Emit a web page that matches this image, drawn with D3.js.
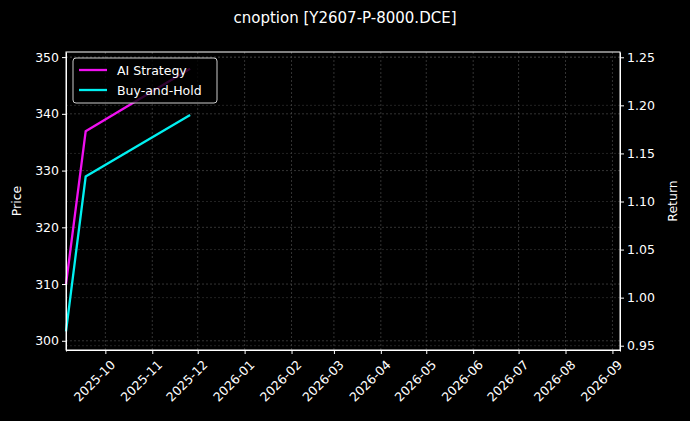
<!DOCTYPE html>
<html>
<head>
<meta charset="utf-8">
<script src="https://cdn.jsdelivr.net/npm/d3@7"></script>
<style>
  body { margin: 0; background: #000; }
  text { font-family: "DejaVu Sans", sans-serif; fill: #fff; }
</style>
</head>
<body>
<div id="chart"></div>
<script>
const title = 'cnoption [Y2607-P-8000.DCE]';
const dates = ['2025-09-05', '2025-09-18', '2025-11-26'];
const aiReturn = [1.014, 1.173, 1.238];
const holdReturn = [0.965, 1.126, 1.190];
const priceTicks = [300, 310, 320, 330, 340, 350];
const returnTicks = [0.95, 1.00, 1.05, 1.10, 1.15, 1.20, 1.25];

const W = 690, H = 421;
const M = { left: 66, right: 70, top: 52, bottom: 71 };
const parse = d3.utcParse('%Y-%m-%d');

const svg = d3.select('#chart').append('svg').attr('width', W).attr('height', H);
svg.append('rect').attr('width', W).attr('height', H).attr('fill', '#000');

const x = d3.scaleUtc()
    .domain([parse('2025-09-05'), parse('2026-09-06')])
    .range([M.left, W - M.right]);
const yPrice = d3.scaleLinear().domain([298.2, 350.9]).range([H - M.bottom + 1, M.top]);
const yRet = d3.scaleLinear().domain([0.9445, 1.2555]).range([H - M.bottom + 1, M.top]);

const g = svg.append('g');
const monthTicks = d3.utcMonth.range(parse('2025-10-01'), parse('2026-09-02'));

// grid
g.selectAll('.vg').data(monthTicks).enter().append('line')
    .attr('x1', d => x(d)).attr('x2', d => x(d))
    .attr('y1', M.top).attr('y2', H - M.bottom)
    .attr('stroke', '#555').attr('stroke-width', 0.6).attr('stroke-dasharray', '2,2');
g.selectAll('.hg').data(priceTicks).enter().append('line')
    .attr('x1', M.left).attr('x2', W - M.right)
    .attr('y1', d => yPrice(d)).attr('y2', d => yPrice(d))
    .attr('stroke', '#555').attr('stroke-width', 0.6).attr('stroke-dasharray', '2,2');
g.selectAll('.hg2').data(returnTicks).enter().append('line')
    .attr('x1', M.left).attr('x2', W - M.right)
    .attr('y1', d => yRet(d)).attr('y2', d => yRet(d))
    .attr('stroke', '#444').attr('stroke-width', 0.5).attr('stroke-dasharray', '2,2');

// lines
const line = arr => d3.line()
    .x((d, i) => x(parse(dates[i])))
    .y(d => yRet(d))(arr);
svg.append('path').attr('d', line(holdReturn)).attr('fill', 'none')
    .attr('stroke', '#00f0f0').attr('stroke-width', 2.3);
svg.append('path').attr('d', line(aiReturn)).attr('fill', 'none')
    .attr('stroke', '#f010f0').attr('stroke-width', 2.3);

// axes
const xAxis = svg.append('g').attr('transform', `translate(0,${H - M.bottom})`)
    .call(d3.axisBottom(x).tickValues(monthTicks).tickFormat(d3.utcFormat('%Y-%m')).tickSize(4).tickSizeOuter(0));
xAxis.selectAll('text')
    .attr('text-anchor', 'end').attr('transform', 'rotate(-45)')
    .attr('dx', '-0.3em').attr('dy', '0.9em').style('font-size', '12.5px');

const yl = svg.append('g').attr('transform', `translate(${M.left},0)`)
    .call(d3.axisLeft(yPrice).tickValues(priceTicks).tickSize(4).tickSizeOuter(0));
yl.selectAll('text').style('font-size', '12.5px');
const yr = svg.append('g').attr('transform', `translate(${W - M.right},0)`)
    .call(d3.axisRight(yRet).tickValues(returnTicks).tickFormat(d3.format('.2f')).tickSize(4).tickSizeOuter(0));
yr.selectAll('text').style('font-size', '12.5px');
svg.selectAll('.domain, .tick line').attr('stroke', '#fff');
svg.selectAll('.tick text').attr('fill', '#fff');

// spines
svg.append('rect').attr('x', M.left).attr('y', M.top)
    .attr('width', W - M.right - M.left).attr('height', H - M.bottom - M.top)
    .attr('fill', 'none').attr('stroke', '#fff').attr('stroke-width', 1);

// labels
svg.append('text').attr('x', W / 2).attr('y', 23).attr('text-anchor', 'middle')
    .style('font-size', '15px').text(title);
svg.append('text').attr('transform', `translate(21,${(M.top + H - M.bottom) / 2}) rotate(-90)`)
    .attr('text-anchor', 'middle').style('font-size', '12.5px').text('Price');
svg.append('text').attr('transform', `translate(677,${(M.top + H - M.bottom) / 2}) rotate(-90)`)
    .attr('text-anchor', 'middle').style('font-size', '12.5px').text('Return');

// legend
const lg = svg.append('g').attr('transform', 'translate(73,58)');
lg.append('rect').attr('width', 144).attr('height', 45).attr('rx', 3)
    .attr('fill', '#000').attr('fill-opacity', 0.8).attr('stroke', '#ccc');
[['AI Strategy', '#f010f0'], ['Buy-and-Hold', '#00f0f0']].forEach(([name, c], i) => {
  lg.append('line').attr('x1', 6).attr('x2', 34).attr('y1', 12 + i * 20).attr('y2', 12 + i * 20)
      .attr('stroke', c).attr('stroke-width', 2.3);
  lg.append('text').attr('x', 44).attr('y', 16.5 + i * 20).style('font-size', '12.5px').text(name);
});
</script>
</body>
</html>
